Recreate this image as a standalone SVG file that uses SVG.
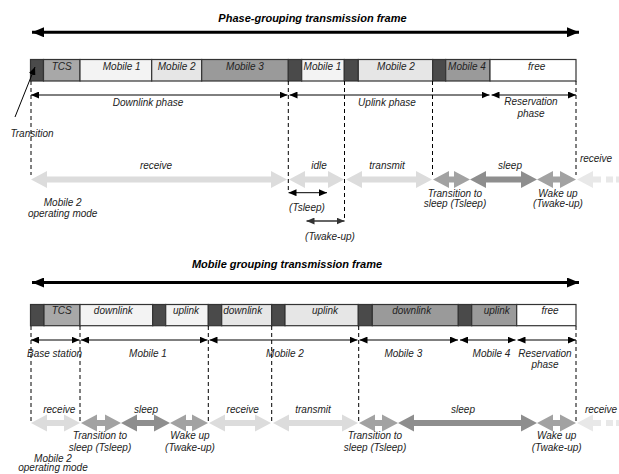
<svg xmlns="http://www.w3.org/2000/svg" width="619" height="474" viewBox="0 0 619 474">
<defs>
<style>
.t{font-family:"Liberation Sans",Arial,sans-serif;font-style:italic;font-size:10px;fill:#222;text-anchor:middle}
.ti{font-family:"Liberation Sans",Arial,sans-serif;font-style:italic;font-weight:bold;font-size:11px;fill:#000;text-anchor:middle}
.cell{stroke:#333;stroke-width:1.2}
.dk{fill:#4a4a4a}.tcs{fill:#a8a8a8}.l1{fill:#f3f3f3}.l2{fill:#e6e6e6}.m3{fill:#9a9a9a}.fr{fill:#fff}
.dash{stroke:#000;stroke-width:1;stroke-dasharray:4 3;fill:none}
.ph{stroke:#000;stroke-width:1;fill:none;marker-start:url(#ah);marker-end:url(#ah)}
.big{stroke:#000;stroke-width:3;fill:none;marker-start:url(#bh);marker-end:url(#bh)}
.lt{fill:#dcdcdc}.fd{fill:#e8e8e8}.md{fill:#a2a2a2}.sl{fill:#8e8e8e}
</style>
<marker id="ah" markerUnits="userSpaceOnUse" markerWidth="8" markerHeight="7" refX="8" refY="3.5" orient="auto-start-reverse"><path d="M0,0 L8,3.5 L0,7 z" fill="#000"/></marker>
<marker id="ag" markerUnits="userSpaceOnUse" markerWidth="8" markerHeight="7" refX="8" refY="3.5" orient="auto-start-reverse"><path d="M0,0 L8,3.5 L0,7 z" fill="#333"/></marker>
<marker id="bh" markerUnits="userSpaceOnUse" markerWidth="12" markerHeight="10" refX="12" refY="5" orient="auto-start-reverse"><path d="M0,0 L12,5 L0,10 z" fill="#000"/></marker>
</defs>
<rect width="619" height="474" fill="#fff"/>

<!-- ===== Top: Phase-grouping frame ===== -->
<g id="title-phase">
<text class="ti" x="312.5" y="22">Phase-grouping transmission frame</text>
</g>
<g id="frame-phase">
<rect class="cell dk" x="30.5" y="59.5" width="13" height="21.5"/>
<rect class="cell tcs" x="43.5" y="59.5" width="36.5" height="21.5"/>
<rect class="cell l1" x="80" y="59.5" width="71.7" height="21.5"/>
<rect class="cell l2" x="151.7" y="59.5" width="50" height="21.5"/>
<rect class="cell m3" x="201.7" y="59.5" width="86.6" height="21.5"/>
<rect class="cell dk" x="288.3" y="59.5" width="13.4" height="21.5"/>
<rect class="cell l1" x="301.7" y="59.5" width="42.6" height="21.5"/>
<rect class="cell dk" x="344.3" y="59.5" width="14" height="21.5"/>
<rect class="cell l2" x="358.3" y="59.5" width="74.4" height="21.5"/>
<rect class="cell dk" x="432.7" y="59.5" width="13" height="21.5"/>
<rect class="cell m3" x="445.7" y="59.5" width="44.3" height="21.5"/>
<rect class="cell fr" x="490" y="59.5" width="86" height="21.5"/>
<text class="t" x="61.7" y="69.5">TCS</text>
<text class="t" x="121.7" y="69.5">Mobile 1</text>
<text class="t" x="176.7" y="69.5">Mobile 2</text>
<text class="t" x="245" y="69.5">Mobile 3</text>
<text class="t" x="322.5" y="69.5">Mobile 1</text>
<text class="t" x="396" y="69.5">Mobile 2</text>
<text class="t" x="467" y="69.5">Mobile 4</text>
<text class="t" x="536.7" y="69.5">free</text>
</g>
<g id="phases-top">
<text class="t" x="148" y="106">Downlink phase</text>
<text class="t" x="387" y="106">Uplink phase</text>
<text class="t" x="531" y="105">Reservation</text>
<text class="t" x="531" y="116.5">phase</text>
<text class="t" x="32" y="137">Transition</text>
</g>
<g id="modes-top">
<polygon class="lt" points="31,179.5 47,171 47,176.5 271,176.5 271,171 287,179.5 271,188 271,182.5 47,182.5 47,188"/>
<polygon class="lt" points="289,179.5 305,171 305,176.5 328,176.5 328,171 344,179.5 328,188 328,182.5 305,182.5 305,188"/>
<polygon class="lt" points="346,179.5 362,171 362,176.5 416,176.5 416,171 432,179.5 416,188 416,182.5 362,182.5 362,188"/>
<polygon class="md" points="433,179.5 449,171 449,176.5 454,176.5 454,171 470,179.5 454,188 454,182.5 449,182.5 449,188"/>
<polygon class="sl" points="470,179.5 486,171 486,176.5 521,176.5 521,171 537,179.5 521,188 521,182.5 486,182.5 486,188"/>
<polygon class="md" points="537,179.5 553,171 553,176.5 560,176.5 560,171 576,179.5 560,188 560,182.5 553,182.5 553,188"/>
<polygon class="fd" points="577,179.5 593,171 593,176.5 601,176.5 601,182.5 593,182.5 593,188"/>
<rect class="fd" x="606" y="176.5" width="7" height="6"/>
<rect class="fd" x="616" y="176.5" width="3" height="6"/>
<text class="t" x="156" y="168.5">receive</text>
<text class="t" x="319" y="168.5">idle</text>
<text class="t" x="387" y="168.5">transmit</text>
<text class="t" x="510" y="168.5">sleep</text>
<text class="t" x="596" y="161.5">receive</text>
<text class="t" x="62.7" y="206">Mobile 2</text>
<text class="t" x="62.7" y="217">operating mode</text>
<text class="t" x="307" y="211">(Tsleep)</text>
<text class="t" x="330" y="239.5">(Twake-up)</text>
<text class="t" x="455" y="196.5">Transition to</text>
<text class="t" x="455" y="207">sleep (Tsleep)</text>
<text class="t" x="558" y="196.5">Wake up</text>
<text class="t" x="558" y="207">(Twake-up)</text>
</g>

<!-- ===== Bottom: Mobile grouping frame ===== -->
<g id="title-mobile">
<text class="ti" x="287" y="268">Mobile grouping transmission frame</text>
</g>
<g id="frame-mobile">
<rect class="cell dk" x="30.5" y="304.5" width="13.5" height="21.2"/>
<rect class="cell tcs" x="44" y="304.5" width="36" height="21.2"/>
<rect class="cell l1" x="80" y="304.5" width="72.7" height="21.2"/>
<rect class="cell dk" x="152.7" y="304.5" width="13" height="21.2"/>
<rect class="cell l1" x="165.7" y="304.5" width="42.6" height="21.2"/>
<rect class="cell dk" x="208.3" y="304.5" width="13.4" height="21.2"/>
<rect class="cell l2" x="221.7" y="304.5" width="50" height="21.2"/>
<rect class="cell dk" x="271.7" y="304.5" width="13.3" height="21.2"/>
<rect class="cell l2" x="285" y="304.5" width="73.3" height="21.2"/>
<rect class="cell dk" x="358.3" y="304.5" width="14" height="21.2"/>
<rect class="cell m3" x="372.3" y="304.5" width="86" height="21.2"/>
<rect class="cell dk" x="458.3" y="304.5" width="13.4" height="21.2"/>
<rect class="cell m3" x="471.7" y="304.5" width="45" height="21.2"/>
<rect class="cell fr" x="516.7" y="304.5" width="59.3" height="21.2"/>
<text class="t" x="61.7" y="314">TCS</text>
<text class="t" x="113.3" y="314">downlink</text>
<text class="t" x="186" y="314">uplink</text>
<text class="t" x="242.7" y="314">downlink</text>
<text class="t" x="325" y="314">uplink</text>
<text class="t" x="411.7" y="314">downlink</text>
<text class="t" x="496.7" y="314">uplink</text>
<text class="t" x="550" y="314">free</text>
</g>
<g id="mobiles-bottom">
<text class="t" x="54.5" y="356.5">Base station</text>
<text class="t" x="148" y="356.5">Mobile 1</text>
<text class="t" x="285" y="356.5">Mobile 2</text>
<text class="t" x="403.3" y="356.5">Mobile 3</text>
<text class="t" x="491.5" y="356.5">Mobile 4</text>
<text class="t" x="545" y="356.5">Reservation</text>
<text class="t" x="545" y="368">phase</text>
</g>
<g id="modes-bottom">
<polygon class="lt" points="31,423 47,414.5 47,420 64,420 64,414.5 80,423 64,431.5 64,426 47,426 47,431.5"/>
<polygon class="md" points="81,423 97,414.5 97,420 105,420 105,414.5 121,423 105,431.5 105,426 97,426 97,431.5"/>
<polygon class="sl" points="121,423 137,414.5 137,420 154,420 154,414.5 170,423 154,431.5 154,426 137,426 137,431.5"/>
<polygon class="md" points="170,423 186,414.5 186,420 192,420 192,414.5 208,423 192,431.5 192,426 186,426 186,431.5"/>
<polygon class="lt" points="209,423 225,414.5 225,420 255,420 255,414.5 271,423 255,431.5 255,426 225,426 225,431.5"/>
<polygon class="lt" points="273,423 289,414.5 289,420 342,420 342,414.5 358,423 342,431.5 342,426 289,426 289,431.5"/>
<polygon class="md" points="359,423 375,414.5 375,420 382,420 382,414.5 398,423 382,431.5 382,426 375,426 375,431.5"/>
<polygon class="sl" points="398,423 414,414.5 414,420 521,420 521,414.5 537,423 521,431.5 521,426 414,426 414,431.5"/>
<polygon class="md" points="537,423 553,414.5 553,420 560,420 560,414.5 576,423 560,431.5 560,426 553,426 553,431.5"/>
<polygon class="fd" points="577,423 593,414.5 593,420 601,420 601,426 593,426 593,431.5"/>
<rect class="fd" x="606" y="420" width="7" height="6"/>
<rect class="fd" x="616" y="420" width="3" height="6"/>
<text class="t" x="59.3" y="412.5">receive</text>
<text class="t" x="146" y="412.5">sleep</text>
<text class="t" x="242.7" y="412.5">receive</text>
<text class="t" x="313" y="412.5">transmit</text>
<text class="t" x="463" y="412.5">sleep</text>
<text class="t" x="601" y="412.5">receive</text>
<text class="t" x="100" y="438.5">Transition to</text>
<text class="t" x="100" y="451">sleep (Tsleep)</text>
<text class="t" x="190" y="438.5">Wake up</text>
<text class="t" x="190" y="451">(Twake-up)</text>
<text class="t" x="375" y="438.5">Transition to</text>
<text class="t" x="375" y="451">sleep (Tsleep)</text>
<text class="t" x="556.7" y="438.5">Wake up</text>
<text class="t" x="556.7" y="451">(Twake-up)</text>
<text class="t" x="53" y="461.5">Mobile 2</text>
<text class="t" x="53" y="471">operating mode</text>
</g>

<g id="connectors">
<line class="big" x1="32" y1="32.3" x2="579" y2="32.3"/>
<line class="big" x1="32" y1="282.5" x2="579" y2="282.5"/>
<!-- top dashed guides -->
<line class="dash" x1="31" y1="81" x2="31" y2="175"/>
<line class="dash" x1="288.3" y1="81" x2="288.3" y2="193"/>
<line class="dash" x1="344.5" y1="81" x2="344.5" y2="221"/>
<line class="dash" x1="432.5" y1="81" x2="432.5" y2="175"/>
<line class="dash" x1="576" y1="81" x2="576" y2="175"/>
<!-- top phase arrows -->
<line class="ph" x1="31" y1="95" x2="287.5" y2="95"/>
<line class="ph" x1="289.5" y1="95" x2="489.5" y2="95"/>
<line class="ph" x1="491.5" y1="95" x2="576" y2="95"/>
<!-- transition pointer -->
<line x1="15" y1="117" x2="35" y2="67" stroke="#000" stroke-width="1" marker-end="url(#ah)"/>
<!-- Tsleep / Twake-up -->
<line class="ph" x1="288.5" y1="192.7" x2="327" y2="192.7"/>
<line x1="306.5" y1="221" x2="344.5" y2="221" stroke="#333" stroke-width="1.6" marker-start="url(#ag)" marker-end="url(#ag)"/>
<!-- bottom dashed guides -->
<line class="dash" x1="31" y1="326" x2="31" y2="422"/>
<line class="dash" x1="80" y1="326" x2="80" y2="423"/>
<line class="dash" x1="208.3" y1="326" x2="208.3" y2="422"/>
<line class="dash" x1="271.7" y1="326" x2="271.7" y2="423"/>
<line class="dash" x1="358.7" y1="326" x2="358.7" y2="422"/>
<line class="dash" x1="576" y1="326" x2="576" y2="422"/>
<!-- bottom mobile arrows -->
<line class="ph" x1="31" y1="340" x2="79.5" y2="340"/>
<line class="ph" x1="81" y1="340" x2="207.5" y2="340"/>
<line class="ph" x1="209.5" y1="340" x2="357.5" y2="340"/>
<line class="ph" x1="359.5" y1="340" x2="458" y2="340"/>
<line class="ph" x1="460" y1="340" x2="515.5" y2="340"/>
<line class="ph" x1="517.5" y1="340" x2="576" y2="340"/>
</g>
</svg>
